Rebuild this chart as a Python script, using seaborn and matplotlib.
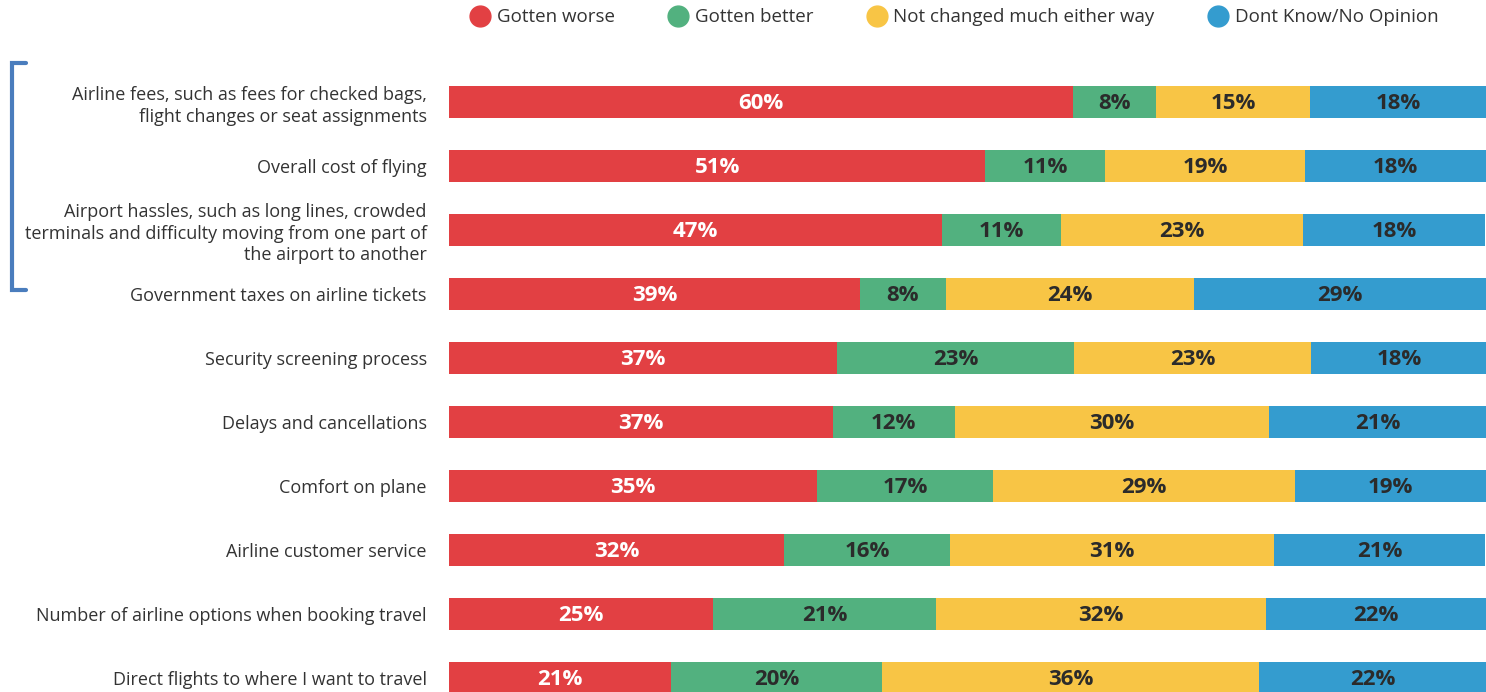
import numpy as np
import pandas as pd
import seaborn as sns
import matplotlib.pyplot as plt
from matplotlib.lines import Line2D

# categories, top to bottom
items = [
    "Airline fees, such as fees for checked bags,\nflight changes or seat assignments",
    "Overall cost of flying",
    "Airport hassles, such as long lines, crowded\nterminals and difficulty moving from one part of\nthe airport to another",
    "Government taxes on airline tickets",
    "Security screening process",
    "Delays and cancellations",
    "Comfort on plane",
    "Airline customer service",
    "Number of airline options when booking travel",
    "Direct flights to where I want to travel",
]

# segment widths (in %)
worse = [60.2, 51.7, 47.5, 39.6, 37.4, 37.0, 35.5, 32.3, 25.5, 21.4]
better = [8.0, 11.6, 11.5, 8.3, 22.9, 11.8, 17.0, 16.0, 21.5, 20.4]
same = [14.8, 19.2, 23.4, 23.9, 22.8, 30.3, 29.1, 31.3, 31.8, 36.3]
dunno = [17.1, 17.5, 17.5, 28.2, 17.0, 20.9, 18.4, 20.3, 21.2, 21.9]

# printed labels
worse_lbl = [60, 51, 47, 39, 37, 37, 35, 32, 25, 21]
better_lbl = [8, 11, 11, 8, 23, 12, 17, 16, 21, 20]
same_lbl = [15, 19, 23, 24, 23, 30, 29, 31, 32, 36]
dunno_lbl = [18, 18, 18, 29, 18, 21, 19, 21, 22, 22]

series = ["Gotten worse", "Gotten better", "Not changed much either way", "Dont Know/No Opinion"]
colors = ["#e24043", "#52b17f", "#f8c545", "#349ccf"]

sns.set_theme(style="white")
plt.rcParams['font.family'] = ['Open Sans', 'DejaVu Sans']

vals = np.array([worse, better, same, dunno])
lbls = np.array([worse_lbl, better_lbl, same_lbl, dunno_lbl])
cum = vals.cumsum(axis=0)

fig = plt.figure(figsize=(14.86, 6.92), dpi=100)
ax = fig.add_axes([449 / 1486, 0, 1 - 449 / 1486, (692 - 70) / 692])

# stacked bars: draw cumulative totals from the longest down
for k in range(3, -1, -1):
    df = pd.DataFrame({"item": items, "cum": cum[k]})
    sns.barplot(data=df, x="cum", y="item", color=colors[k], saturation=1,
                width=0.5, linewidth=0, orient="h", ax=ax)

for k in range(4):
    for i in range(len(items)):
        left = cum[k][i] - vals[k][i]
        ax.text(left + vals[k][i] / 2, i + 0.03, f"{lbls[k][i]}%", ha="center",
                va="center", fontsize=16, fontweight="bold",
                color="white" if k == 0 else "#2b2b2b")

ax.set_xlim(0, 100)
ax.set_ylim((692 - 102) / 64, -0.5)
ax.set_xlabel("")
ax.set_ylabel("")
ax.set_xticks([])
ax.tick_params(axis="y", length=0, pad=16, labelsize=13, labelcolor="#333333")
for t in ax.get_yticklabels():
    t.set_linespacing(1.25)
sns.despine(ax=ax, left=True, bottom=True)

handles = [Line2D([], [], marker="o", linestyle="none", markersize=15,
                  markerfacecolor=c, markeredgecolor=c) for c in colors]
fig.legend(handles, series, loc="center", bbox_to_anchor=(0.6423, 0.975), ncol=4,
           frameon=False, fontsize=13.5, handlelength=1.0, handletextpad=0.4,
           columnspacing=2.87, labelcolor="#333333")

# bracket around the first three rows
bx0, bx1 = 12 / 1486, 26 / 1486
by0, by1 = 1 - 63 / 692, 1 - 290 / 692
fig.add_artist(Line2D([bx1, bx0, bx0, bx1], [by0, by0, by1, by1],
                      transform=fig.transFigure, color="#4a7dbd", linewidth=3,
                      solid_joinstyle="miter"))

fig.savefig("out.png", dpi=100)
